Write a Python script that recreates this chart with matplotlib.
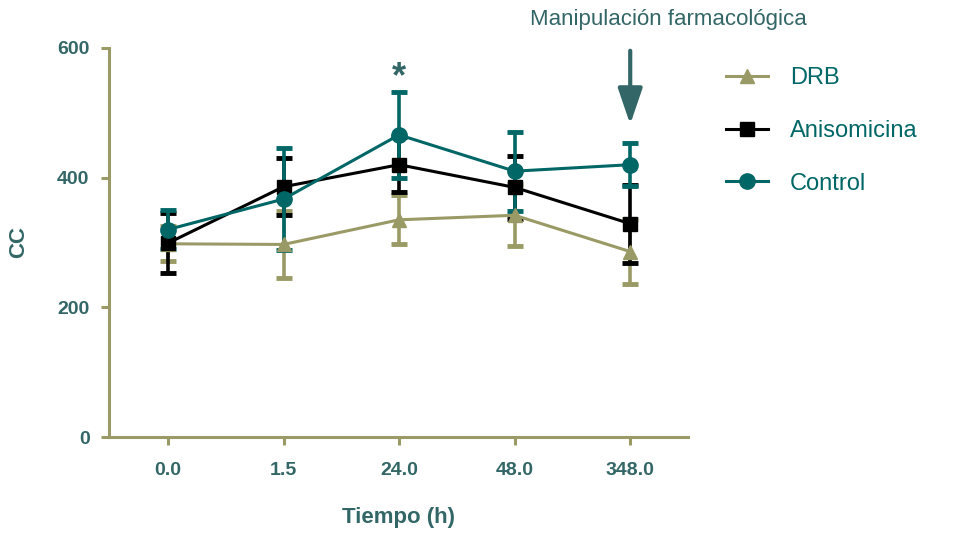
import matplotlib.pyplot as plt
from matplotlib.lines import Line2D
import numpy as np

plt.rcParams['font.family'] = ['Liberation Sans', 'DejaVu Sans']

TIMES = ["0.0", "1.5", "24.0", "48.0", "348.0"]
DRB_MEAN = [298, 297, 335, 342, 286]
DRB_ERR = [27, 52, 38, 48, 50]
ANISO_MEAN = [299, 386, 420, 385, 329]
ANISO_ERR = [46, 44, 42, 49, 60]
CONTROL_MEAN = [320, 367, 466, 410, 420]
CONTROL_ERR = [30, 78, 66, 61, 33]

OLIVE = '#9a9a66'
TEAL = '#006666'
TEXT = '#336666'

fig = plt.figure(figsize=(9.61, 5.37), dpi=100)
ax = fig.add_axes([109 / 961, 100 / 537, 579 / 961, 389 / 537])

x = np.arange(len(TIMES))
series = [
    ("DRB", DRB_MEAN, DRB_ERR, OLIVE, '^', 10),
    ("Anisomicina", ANISO_MEAN, ANISO_ERR, 'black', 's', 10),
    ("Control", CONTROL_MEAN, CONTROL_ERR, TEAL, 'o', 11),
]
handles = []
for name, mean, err, color, marker, ms in series:
    ax.errorbar(x, mean, yerr=err, color=color, marker=marker, markersize=ms,
                linewidth=2.2, elinewidth=2.6, capsize=6, capthick=3.5)
    handles.append(Line2D([], [], color=color, marker=marker, markersize=ms,
                          linewidth=2.2, label=name))

ax.set_xlim(-0.51, 4.5)
ax.set_ylim(0, 600)
ax.set_xticks(x)
ax.set_xticklabels(TIMES)
ax.set_yticks([0, 200, 400, 600])

for side in ['top', 'right']:
    ax.spines[side].set_visible(False)
for side in ['left', 'bottom']:
    ax.spines[side].set_color(OLIVE)
    ax.spines[side].set_linewidth(2.2)
ax.tick_params(axis='both', colors=OLIVE, width=2.2, length=6, labelcolor=TEXT,
               labelsize=14)
ax.tick_params(axis='x', pad=12)
ax.tick_params(axis='y', pad=8)
for lbl in ax.get_xticklabels() + ax.get_yticklabels():
    lbl.set_fontweight('bold')

ax.set_xlabel("Tiempo (h)", fontsize=16, fontweight='bold', color=TEXT, labelpad=20)
ax.set_ylabel("CC", fontsize=16, fontweight='bold', color=TEXT, labelpad=20)

ax.text(2, 555, "*", fontsize=26, fontweight='bold', color=TEXT, ha='center', va='center')
ax.annotate("", xy=(4, 478), xytext=(4, 600),
            arrowprops=dict(arrowstyle='-|>,head_width=0.75,head_length=2.2',
                            color='#336666', lw=3),
            annotation_clip=False)
fig.text(668 / 961, 1 - 20 / 537, "Manipulación farmacológica", fontsize=16,
         color=TEXT, ha='center', va='center')

leg = ax.legend(handles=handles, loc='upper left', bbox_to_anchor=(1.05, 0.975),
                frameon=False, fontsize=17, handlelength=1.75, labelspacing=1.3,
                handletextpad=0.95, borderaxespad=0)
for t in leg.get_texts():
    t.set_color(TEAL)

fig.savefig("out.png", dpi=100)
